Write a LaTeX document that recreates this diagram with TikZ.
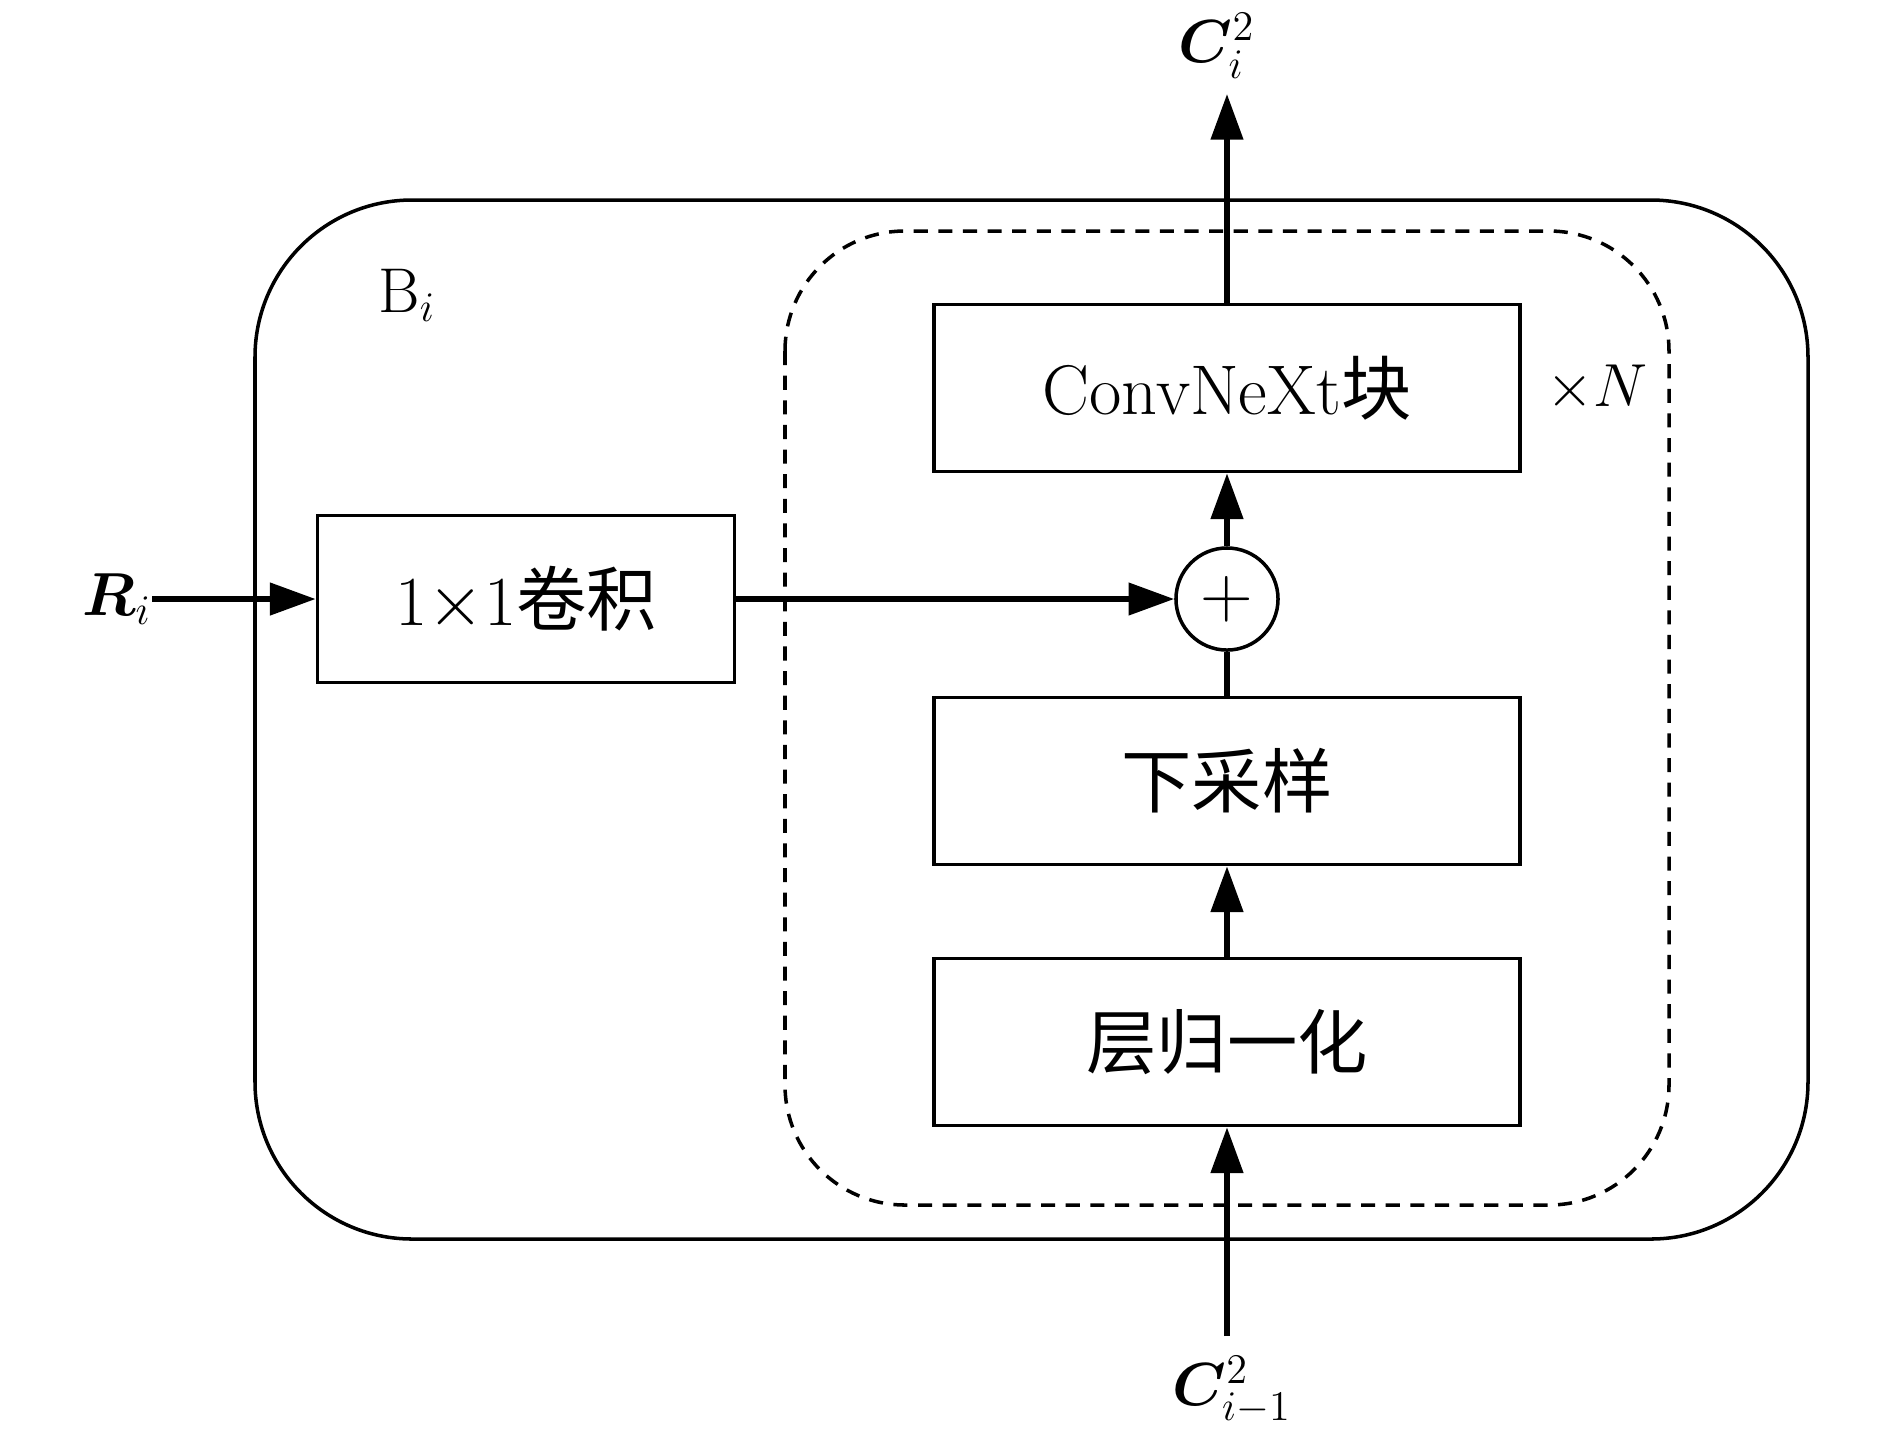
\documentclass[tikz,border=0pt]{standalone}
\usepackage{fontspec}
\usepackage{amsmath,bm}
\newfontfamily\cjk{Noto Sans CJK SC}
\usetikzlibrary{arrows.meta}

\begin{document}
\begin{tikzpicture}
        [x=0.01cm, y=-0.01cm,
        block/.style={draw, line width=1pt, minimum width=5.86cm, minimum height=1.67cm, inner sep=0pt, font=\fontsize{20}{24}\selectfont},
        flow/.style={line width=1.6pt, -{Triangle[length=13pt, width=9pt]}},
        tag/.style={inner sep=0pt, font=\fontsize{18}{22}\selectfont}]

        \useasboundingbox (0,0) rectangle (1890,1441);

        % --- Outer block B_i and the repeated (dashed) part ---
        \draw[line width=1pt, rounded corners=1.57cm] (255,200) rectangle (1808,1239);
        \draw[line width=1pt, dash pattern=on 4pt off 3pt, rounded corners=1.2cm] (785,231) rectangle (1669,1205);

        \node[block] (convnext) at (1227,388) {ConvNeXt{\cjk 块}};
        \node[block] (down) at (1227,781) {{\cjk 下采样}};
        \node[block] (norm) at (1227,1042) {{\cjk 层归一化}};
        \node[block, minimum width=4.17cm] (conv1) at (526,599) {1$\times$1{\cjk 卷积}};
        \node[circle, draw, line width=1pt, minimum size=1.02cm, inner sep=0pt, font=\fontsize{20}{24}\selectfont] (add) at (1227,599) {$+$};

        \node[tag] (Bi) at (407,295) {B$_i$};
        \node[tag] (N) at (1597,388) {$\times N$};
        \node[tag] (Ri) at (117,599) {$\bm{R}_i$};
        \node[tag] (Cout) at (1217,46) {$\bm{C}_i^2$};
        \node[tag] (Cin) at (1232,1390) {$\bm{C}_{i-1}^2$};

        % free ends of the in/out arrows
        \coordinate (outtip) at (1227,94);
        \coordinate (intail) at (1227,1336);

        \draw[flow] (Ri.east) -- (conv1.west);
        \draw[flow] (conv1.east) -- (add.west);
        \draw[flow] (intail) -- (norm.south);
        \draw[flow] (norm.north) -- (down.south);
        \draw[line width=1.6pt] (down.north) -- (add.south);
        \draw[flow] (add.north) -- (convnext.south);
        \draw[flow] (convnext.north) -- (outtip);
    \end{tikzpicture}
\end{document}
